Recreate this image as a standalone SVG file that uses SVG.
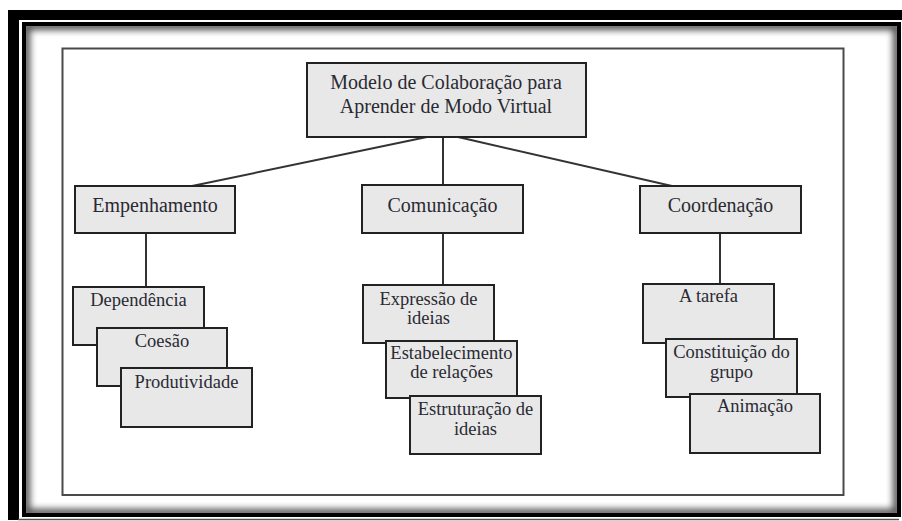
<svg xmlns="http://www.w3.org/2000/svg" width="902" height="521" viewBox="0 0 902 521">
<defs>
<style>
.box{fill:#e8e8e8;stroke:#222;stroke-width:2}
.t1{font-family:'Liberation Serif','DejaVu Serif',Tinos,'Times New Roman',serif;font-size:20px;fill:#2a2a33;text-anchor:middle}
.t2{font-family:'Liberation Serif','DejaVu Serif',Tinos,'Times New Roman',serif;font-size:18.5px;fill:#2a2a33;text-anchor:middle}
.con{stroke:#333;stroke-width:2;fill:none}
</style>
<clipPath id="inside"><rect x="26" y="26" width="871" height="487"/></clipPath>
<filter id="blur" x="-5%" y="-5%" width="110%" height="110%"><feGaussianBlur stdDeviation="3.5"/></filter>
</defs>
<rect x="0" y="0" width="902" height="521" fill="#fff"/>
<g id="frame">
<rect x="8" y="10" width="894" height="10" fill="#000"/>
<rect x="8" y="10" width="11" height="510" fill="#000"/>
<line x1="18" y1="519.5" x2="899" y2="519.5" stroke="#555" stroke-width="1.5"/>
<g clip-path="url(#inside)">
<rect x="26" y="26" width="871" height="487" fill="none" stroke="#000" stroke-width="8" filter="url(#blur)" opacity="0.7"/>
</g>
<rect x="24" y="24" width="875" height="491" fill="none" stroke="#000" stroke-width="4"/>
<rect x="62.5" y="48.5" width="781" height="446.5" fill="#fff" stroke="#4a4a4a" stroke-width="2"/>
</g>
<g id="connectors">
<line class="con" x1="443" y1="137" x2="443" y2="185"/>
<line class="con" x1="427" y1="137" x2="192" y2="186"/>
<line class="con" x1="458" y1="137" x2="672" y2="186"/>
<line class="con" x1="146" y1="233" x2="146" y2="287"/>
<line class="con" x1="443" y1="233" x2="443" y2="285"/>
<line class="con" x1="720" y1="233" x2="720" y2="284"/>
</g>
<g id="root">
<rect class="box" x="307" y="63" width="279" height="74"/>
<text class="t1" x="446" y="89">Modelo de Colaboração para</text>
<text class="t1" x="446" y="113">Aprender de Modo Virtual</text>
</g>
<g id="empenhamento">
<rect class="box" x="75" y="186" width="160" height="47"/>
<text class="t1" x="155" y="212">Empenhamento</text>
</g>
<g id="comunicacao">
<rect class="box" x="362" y="185" width="161" height="48"/>
<text class="t1" x="442.5" y="212">Comunicação</text>
</g>
<g id="coordenacao">
<rect class="box" x="640" y="186" width="161" height="47"/>
<text class="t1" x="720.5" y="212">Coordenação</text>
</g>
<g id="dependencia">
<rect class="box" x="73" y="287" width="131" height="58"/>
<text class="t2" x="138.5" y="306">Dependência</text>
</g>
<g id="coesao">
<rect class="box" x="97" y="328" width="130" height="58"/>
<text class="t2" x="162" y="347">Coesão</text>
</g>
<g id="produtividade">
<rect class="box" x="121" y="368" width="131" height="59"/>
<text class="t2" x="186.5" y="388">Produtividade</text>
</g>
<g id="expressao">
<rect class="box" x="363" y="285" width="131" height="58"/>
<text class="t2" x="428.5" y="305">Expressão de</text>
<text class="t2" x="428.5" y="324">ideias</text>
</g>
<g id="estabelecimento">
<rect class="box" x="386" y="341" width="131" height="57"/>
<text class="t2" x="451.5" y="359">Estabelecimento</text>
<text class="t2" x="451.5" y="378">de relações</text>
</g>
<g id="estruturacao">
<rect class="box" x="410" y="396" width="131" height="58"/>
<text class="t2" x="475.5" y="415">Estruturação de</text>
<text class="t2" x="475.5" y="435">ideias</text>
</g>
<g id="tarefa">
<rect class="box" x="643" y="284" width="131" height="59"/>
<text class="t2" x="708.5" y="302">A tarefa</text>
</g>
<g id="constituicao">
<rect class="box" x="666" y="339" width="131" height="58"/>
<text class="t2" x="731.5" y="358">Constituição do</text>
<text class="t2" x="731.5" y="378">grupo</text>
</g>
<g id="animacao">
<rect class="box" x="690" y="394" width="130" height="59"/>
<text class="t2" x="755" y="412">Animação</text>
</g>
</svg>
